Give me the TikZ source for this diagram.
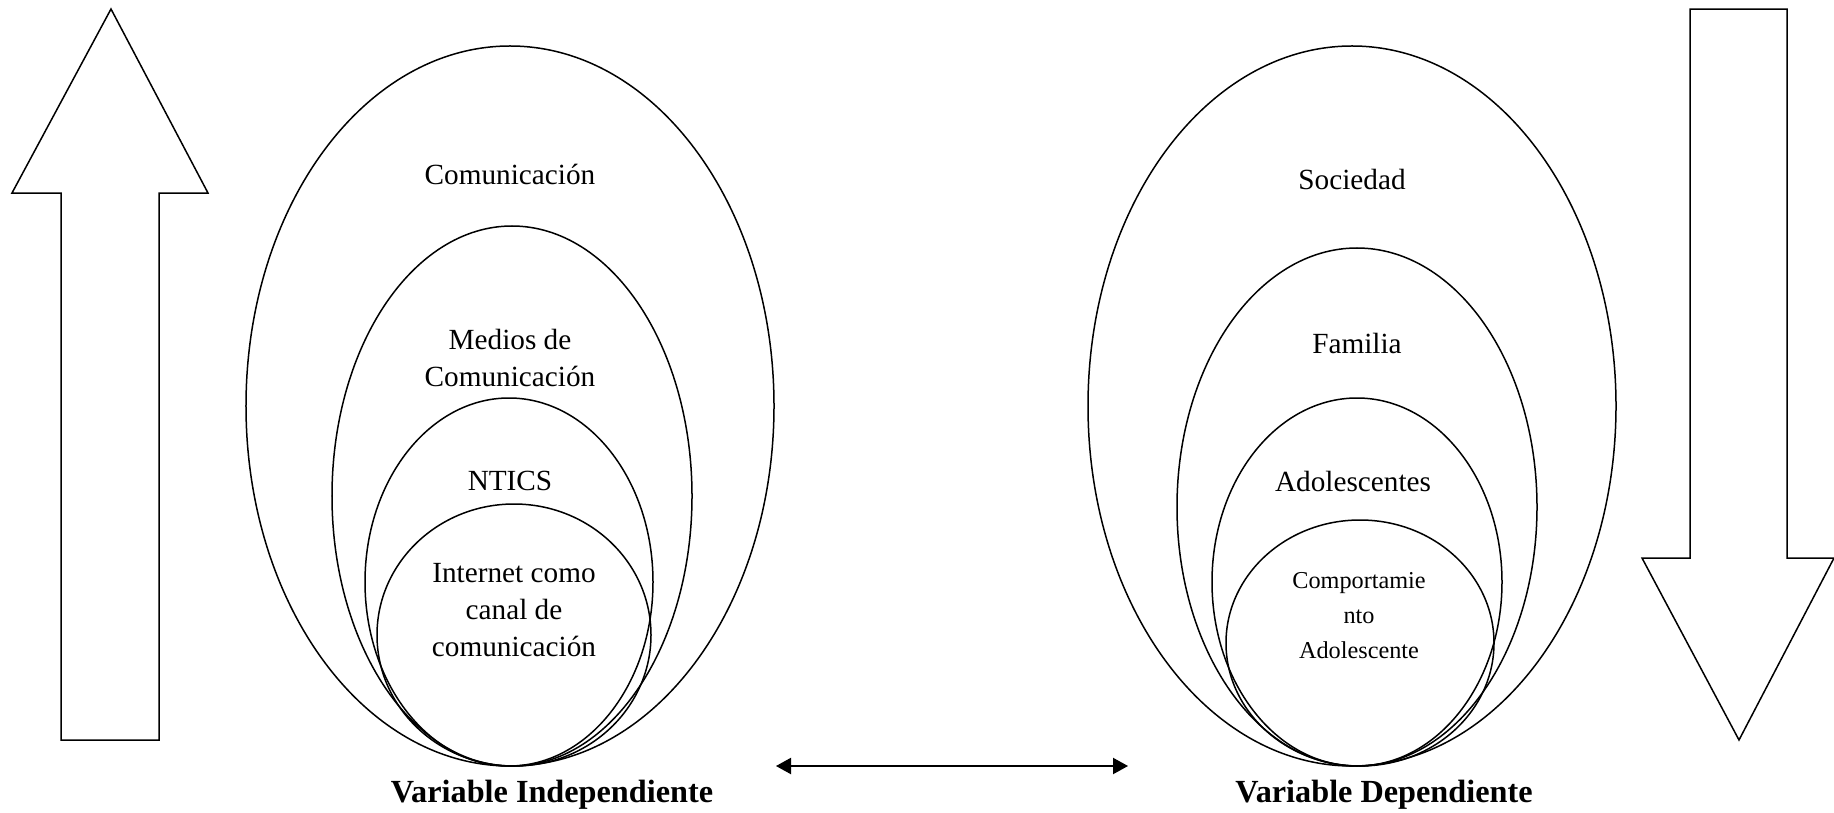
\documentclass[tikz,border=0pt]{standalone}
\usepackage{fontspec}
\setmainfont{Liberation Serif}
\usetikzlibrary{shapes.geometric,arrows.meta}

\tikzset{
	oval/.style 2 args={draw,ellipse,inner sep=0pt,minimum width=#1*0.8pt,minimum height=#2*0.8pt},
	txt/.style={font=\fontsize{11.7}{14.9}\selectfont,align=center},
	small/.style={font=\fontsize{9.7}{14}\selectfont,align=center},
	title/.style={font=\fontsize{12.9}{15}\selectfont\bfseries}
}

\begin{document}
\begin{tikzpicture}[x=0.4pt,y=-0.4pt,line width=0.6pt]
	\useasboundingbox (0,0) rectangle (1834,813);
	% block arrows
	\draw (61,740) -- (61,193) -- (12,193) -- (111,9) -- (208,193) -- (159,193) -- (159,740) -- cycle;
	\draw (1690,9) -- (1690,558) -- (1642,558) -- (1739,740) -- (1834,558) -- (1787,558) -- (1787,9) -- cycle;
	% independent side
	\node[oval={264}{360}] (com) at (510,406) {};
	\node[oval={180}{270}] (med) at (512,496) {};
	\node[oval={144}{184}] (ntic) at (509,582) {};
	\node[oval={137}{131}] (inet) at (514,635) {};
	\node[txt] (comT) at (510,174) {Comunicación};
	\node[txt] (medT) at (510,358) {Medios de\\Comunicación};
	\node[txt] (nticT) at (510,481) {NTICS};
	\node[txt] (inetT) at (514,610) {Internet como\\canal de\\comunicación};
	% dependent side
	\node[oval={264}{360}] (soc) at (1352,406) {};
	\node[oval={180}{259}] (fam) at (1357,507) {};
	\node[oval={145}{184}] (ado) at (1357,582) {};
	\node[oval={134}{123}] (comp) at (1360,643) {};
	\node[txt] (socT) at (1352,179) {Sociedad};
	\node[txt] (famT) at (1357,343) {Familia};
	\node[txt] (adoT) at (1353,481) {Adolescentes};
	\node[small] (compT) at (1359,616) {Comportamie\\nto\\Adolescente};
	% titles
	\node[title] (vi) at (552,795) {Variable Independiente};
	\node[title] (vd) at (1384,795) {Variable Dependiente};
	% link
	\coordinate (l) at (776,766);
	\coordinate (r) at (1128,766);
	\draw[line width=0.5pt,{Triangle[length=6pt,width=6.5pt]}-{Triangle[length=6pt,width=6.5pt]}] (l) -- (r);
\end{tikzpicture}
\end{document}
